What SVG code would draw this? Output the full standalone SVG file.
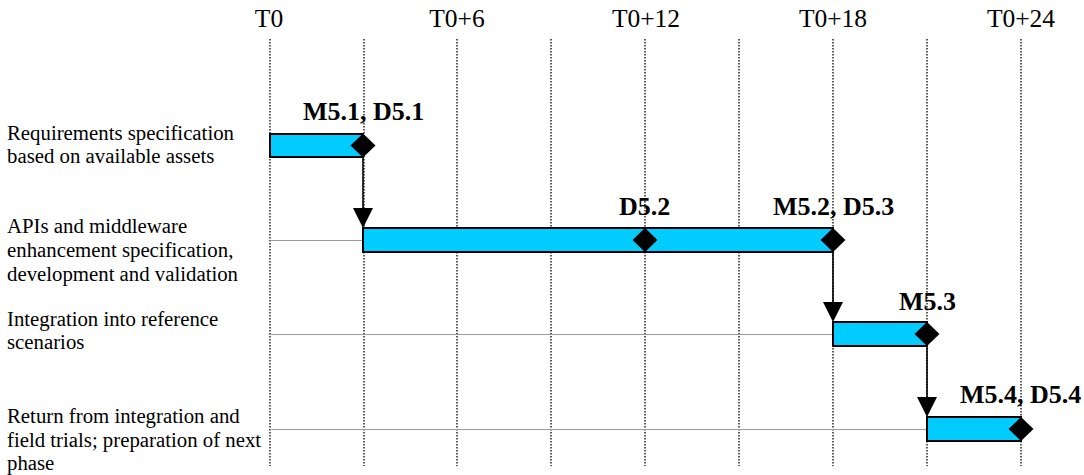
<svg xmlns="http://www.w3.org/2000/svg" width="1084" height="475" viewBox="0 0 1084 475">
  <defs>
    <style>
      .grid { stroke: #000; stroke-width: 1.3; stroke-dasharray: 1.5 1.5; fill: none; }
      .guide { stroke: #9a9a9a; stroke-width: 1; fill: none; }
      .bar { fill: #00ccff; stroke: #000; stroke-width: 2; }
      .ms { fill: #000; stroke: none; }
      .link { stroke: #000; stroke-width: 1.6; fill: none; }
      .head { fill: #000; stroke: none; }
      .tick { font-family: "Liberation Serif", "Times New Roman", serif; font-size: 25.5px; fill: #000; text-anchor: middle; }
      .task { font-family: "Liberation Serif", "Times New Roman", serif; font-size: 20.8px; fill: #000; }
      .mlabel { font-family: "Liberation Serif", "Times New Roman", serif; font-size: 26px; font-weight: bold; fill: #000; }
    </style>
    <polygon id="diamond" points="0,-12 12.5,0 0,12 -12.5,0"/>
  </defs>
  <rect width="1084" height="475" fill="#fff"/>

  <!-- time axis -->
  <g id="axis">
    <g class="grid">
      <line x1="270" y1="39" x2="270" y2="466"/>
      <line x1="364" y1="39" x2="364" y2="466"/>
      <line x1="457" y1="39" x2="457" y2="466"/>
      <line x1="551" y1="39" x2="551" y2="466"/>
      <line x1="645" y1="39" x2="645" y2="466"/>
      <line x1="739" y1="39" x2="739" y2="466"/>
      <line x1="833" y1="39" x2="833" y2="466"/>
      <line x1="927" y1="39" x2="927" y2="466"/>
      <line x1="1021" y1="39" x2="1021" y2="466"/>
    </g>
    <text class="tick" x="269" y="27">T0</text>
    <text class="tick" x="457" y="27">T0+6</text>
    <text class="tick" x="646" y="27">T0+12</text>
    <text class="tick" x="833" y="27">T0+18</text>
    <text class="tick" x="1021" y="27">T0+24</text>
  </g>

  <!-- row guides -->
  <g id="guides" class="guide">
    <line x1="270" y1="240.5" x2="363" y2="240.5"/>
    <line x1="270" y1="334.5" x2="833" y2="334.5"/>
    <line x1="270" y1="429.5" x2="927" y2="429.5"/>
  </g>

  <!-- task rows -->
  <g id="task1">
    <text class="task" x="7" y="140">Requirements specification</text>
    <text class="task" x="7" y="163">based on available assets</text>
    <rect class="bar" x="270" y="134" width="93" height="23"/>
    <use href="#diamond" class="ms" x="363" y="145.5"/>
    <text class="mlabel" x="303" y="120">M5.1, D5.1</text>
  </g>

  <g id="task2">
    <text class="task" x="7" y="232.5">APIs and middleware</text>
    <text class="task" x="7" y="256.5">enhancement specification,</text>
    <text class="task" x="7" y="280.5">development and validation</text>
    <rect class="bar" x="363" y="228" width="470" height="24"/>
    <use href="#diamond" class="ms" x="645" y="240"/>
    <use href="#diamond" class="ms" x="833" y="240"/>
    <text class="mlabel" x="619" y="215">D5.2</text>
    <text class="mlabel" x="773" y="215">M5.2, D5.3</text>
  </g>

  <g id="task3">
    <text class="task" x="7" y="326">Integration into reference</text>
    <text class="task" x="7" y="349">scenarios</text>
    <rect class="bar" x="833" y="322" width="94" height="24"/>
    <use href="#diamond" class="ms" x="927" y="334"/>
    <text class="mlabel" x="899" y="310">M5.3</text>
  </g>

  <g id="task4">
    <text class="task" x="7" y="422.5">Return from integration and</text>
    <text class="task" x="7" y="446.5">field trials; preparation of next</text>
    <text class="task" x="7" y="470">phase</text>
    <rect class="bar" x="927" y="417" width="94" height="24"/>
    <use href="#diamond" class="ms" x="1021" y="429"/>
    <text class="mlabel" x="960" y="403">M5.4, D5.4</text>
  </g>

  <!-- dependencies -->
  <g id="connectors">
    <line class="link" x1="363" y1="157" x2="363" y2="209"/>
    <polygon class="head" points="353,208 373,208 363,228"/>
    <line class="link" x1="833" y1="252" x2="833" y2="303"/>
    <polygon class="head" points="823,302 843,302 833,322"/>
    <line class="link" x1="927" y1="346" x2="927" y2="398"/>
    <polygon class="head" points="917,397 937,397 927,417"/>
  </g>
</svg>
